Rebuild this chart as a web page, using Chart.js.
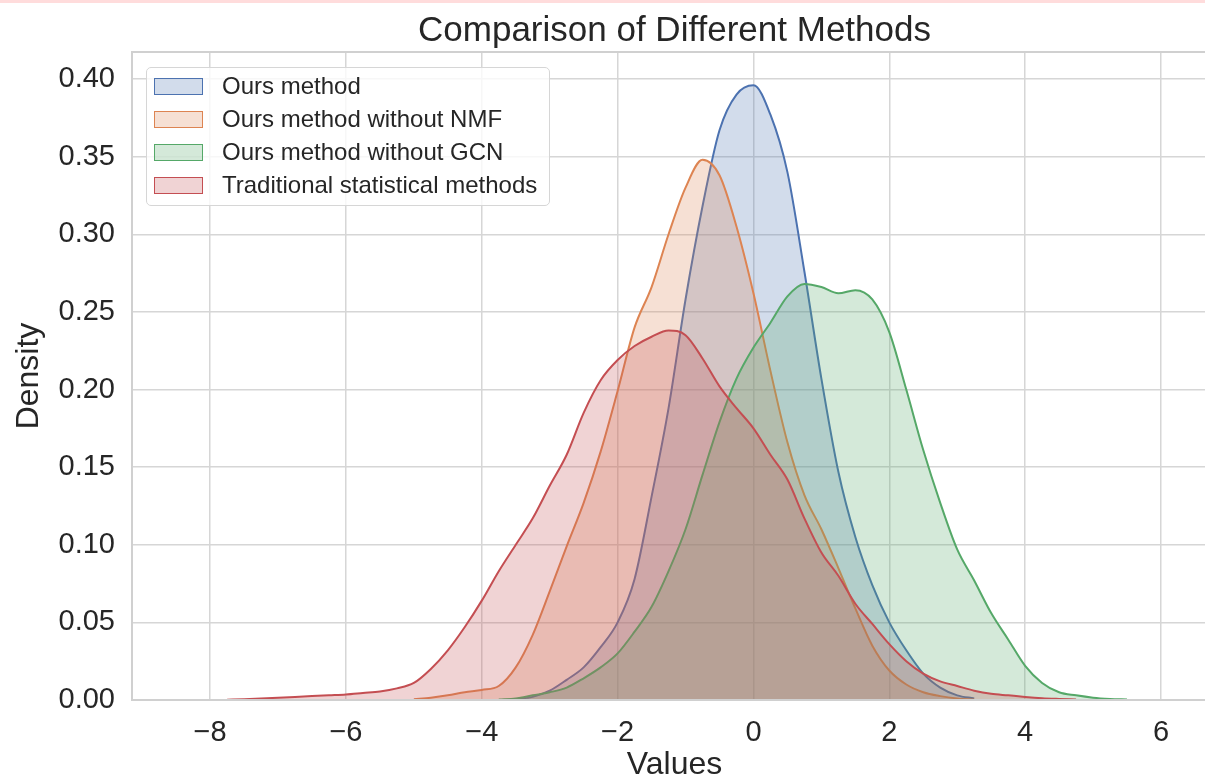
<!DOCTYPE html>
<html>
<head>
<meta charset="utf-8">
<script src="https://cdn.jsdelivr.net/npm/chart.js@4.4.0/dist/chart.umd.min.js"></script>
<style>
  body { margin: 0; background: #fff; overflow: hidden; }
  #wrap { position: relative; width: 1205px; height: 781px; overflow: hidden; }
  #strip { position: absolute; left: 0; top: 0; width: 1205px; height: 3px; background: #ffdcdc; }
  #legend {
    position: absolute; left: 146px; top: 67px; width: 402px; height: 137px;
    border: 1px solid #d6d6d6; border-radius: 5px; background: rgba(255,255,255,0.8);
    font-family: "Liberation Sans", Arial, sans-serif; font-size: 24px; color: #262626;
  }
  .row { position: absolute; left: 0; height: 34px; display: flex; align-items: center; }
  .patch { width: 47px; height: 15px; margin-left: 7px; margin-right: 19px; }
</style>
</head>
<body>
<div id="wrap">
  <canvas id="kde" width="1218" height="781"></canvas>
  <div id="strip"></div>
  <div id="legend"></div>
</div>
<script>
// x grid of the density curves
const xs = [-7.75, -7.5, -7.25, -7, -6.75, -6.5, -6.25, -6, -5.75, -5.5, -5.25, -5, -4.75, -4.5, -4.25,
  -4, -3.75, -3.5, -3.25, -3, -2.75, -2.5, -2.25, -2, -1.75, -1.5, -1.25, -1, -0.75, -0.5, -0.25,
  0, 0.25, 0.5, 0.75, 1, 1.25, 1.5, 1.75, 2, 2.25, 2.5, 2.75, 3, 3.25, 3.5, 3.75, 4, 4.25, 4.5,
  4.75, 5, 5.25, 5.5, 5.75];

const labels = ["Ours method", "Ours method without NMF", "Ours method without GCN", "Traditional statistical methods"];

const oursDensity = [null, null, null, null, null, null, null, null, null, null, null, null, null, null, null,
  null, null, 0.0005, 0.002, 0.006, 0.013, 0.021, 0.034, 0.05, 0.078, 0.131, 0.188, 0.258, 0.318, 0.367, 0.39,
  0.396, 0.377, 0.34, 0.276, 0.207, 0.147, 0.105, 0.074, 0.05, 0.032, 0.017, 0.008, 0.003, 0.001, null, null, null, null, null,
  null, null, null, null, null];

const noNmfDensity = [null, null, null, null, null, null, null, null, null, null, null, 0.0005, 0.0015, 0.003, 0.005,
  0.0065, 0.009, 0.021, 0.042, 0.07, 0.099, 0.127, 0.16, 0.199, 0.24, 0.266, 0.3, 0.33, 0.348, 0.338, 0.305,
  0.262, 0.212, 0.166, 0.132, 0.11, 0.085, 0.059, 0.035, 0.019, 0.01, 0.005, 0.0025, 0.001, 0.0003, null, null, null, null, null,
  null, null, null, null, null];

const noGcnDensity = [null, null, null, null, null, null, null, null, null, null, null, null, null, null, null,
  null, 0.0003, 0.001, 0.003, 0.005, 0.008, 0.014, 0.021, 0.03, 0.044, 0.06, 0.083, 0.11, 0.145, 0.179, 0.207,
  0.227, 0.243, 0.26, 0.268, 0.266, 0.262, 0.264, 0.258, 0.237, 0.2, 0.161, 0.127, 0.097, 0.077, 0.056, 0.039, 0.022, 0.011, 0.005,
  0.003, 0.0015, 0.0007, 0.0003, null];

const tradDensity = [0.0002, 0.0005, 0.001, 0.0015, 0.002, 0.0025, 0.003, 0.0035, 0.0045, 0.0055, 0.0075, 0.011, 0.02, 0.032, 0.047,
  0.064, 0.083, 0.1, 0.117, 0.138, 0.158, 0.185, 0.206, 0.219, 0.228, 0.234, 0.238, 0.235, 0.22, 0.202, 0.188,
  0.175, 0.158, 0.142, 0.117, 0.095, 0.08, 0.062, 0.049, 0.036, 0.025, 0.017, 0.012, 0.009, 0.006, 0.004, 0.003, 0.002, 0.0012, 0.0007,
  0.0003, null, null, null, null];

const xTicks = [-8, -6, -4, -2, 0, 2, 4, 6];
const yTicks = [0, 0.05, 0.1, 0.15, 0.2, 0.25, 0.3, 0.35, 0.4];

const colors = [[76, 114, 176], [221, 132, 82], [85, 168, 104], [196, 78, 82]];
const series = [oursDensity, noNmfDensity, noGcnDensity, tradDensity];

const rgba = (c, a) => `rgba(${c[0]},${c[1]},${c[2]},${a})`;
const FONT = "'Liberation Sans', Arial, sans-serif";

const datasets = series.map((ys, i) => ({
  label: labels[i],
  data: xs.map((x, j) => ({ x: x, y: ys[j] })),
  borderColor: rgba(colors[i], 1),
  backgroundColor: rgba(colors[i], 0.25),
  borderWidth: 2,
  pointRadius: 0,
  fill: "origin",
  cubicInterpolationMode: "monotone",
  spanGaps: false,
  order: series.length - i
}));

// light grey frame round the plot area, like the seaborn spines
const spines = {
  id: "spines",
  afterDraw(chart) {
    const { ctx, chartArea: a } = chart;
    ctx.save();
    ctx.strokeStyle = "#d0d0d0";
    ctx.lineWidth = 2;
    ctx.strokeRect(a.left, a.top, a.right - a.left, a.bottom - a.top);
    ctx.restore();
  }
};

new Chart(document.getElementById("kde"), {
  type: "line",
  data: { datasets: datasets },
  options: {
    responsive: false,
    animation: false,
    layout: { padding: { right: 1 } },
    plugins: {
      legend: { display: false },
      tooltip: { enabled: false },
      title: {
        display: true,
        fullSize: false,
        text: "Comparison of Different Methods",
        color: "#262626",
        font: { family: FONT, size: 35, weight: "normal", lineHeight: 1.2 },
        padding: { top: 10, bottom: 0 }
      }
    },
    scales: {
      x: {
        type: "linear",
        min: -9.15,
        max: 6.825,
        afterFit: s => { s.height = 81; },
        afterBuildTicks: s => { s.ticks = xTicks.map(v => ({ value: v })); },
        ticks: {
          color: "#262626",
          font: { family: FONT, size: 29 },
          padding: 16,
          callback: v => String(v).replace("-", "\u2212")
        },
        grid: { color: "#d6d6d6", lineWidth: 1.5, drawTicks: false },
        border: { display: false },
        title: {
          display: true, text: "Values", color: "#262626",
          font: { family: FONT, size: 32, lineHeight: 1 }, padding: 0
        }
      },
      y: {
        min: 0,
        max: 0.4174,
        afterFit: s => { s.width = 132; },
        afterBuildTicks: s => { s.ticks = yTicks.map(v => ({ value: v })); },
        ticks: {
          color: "#262626",
          font: { family: FONT, size: 29 },
          padding: 17,
          callback: v => Number(v).toFixed(2)
        },
        grid: { color: "#d6d6d6", lineWidth: 1.5, drawTicks: false },
        border: { display: false },
        title: {
          display: true, text: "Density", color: "#262626",
          font: { family: FONT, size: 32, lineHeight: 1 }, padding: { top: 13, bottom: 0 }
        }
      }
    }
  },
  plugins: [spines]
});

// legend, in the upper left of the plot
const legend = document.getElementById("legend");
labels.forEach((name, i) => {
  const row = document.createElement("div");
  row.className = "row";
  row.style.top = (1 + i * 33) + "px";
  const patch = document.createElement("div");
  patch.className = "patch";
  patch.style.background = rgba(colors[i], 0.25);
  patch.style.border = "1.5px solid " + rgba(colors[i], 1);
  const txt = document.createElement("span");
  txt.textContent = name;
  row.appendChild(patch);
  row.appendChild(txt);
  legend.appendChild(row);
});
</script>
</body>
</html>
